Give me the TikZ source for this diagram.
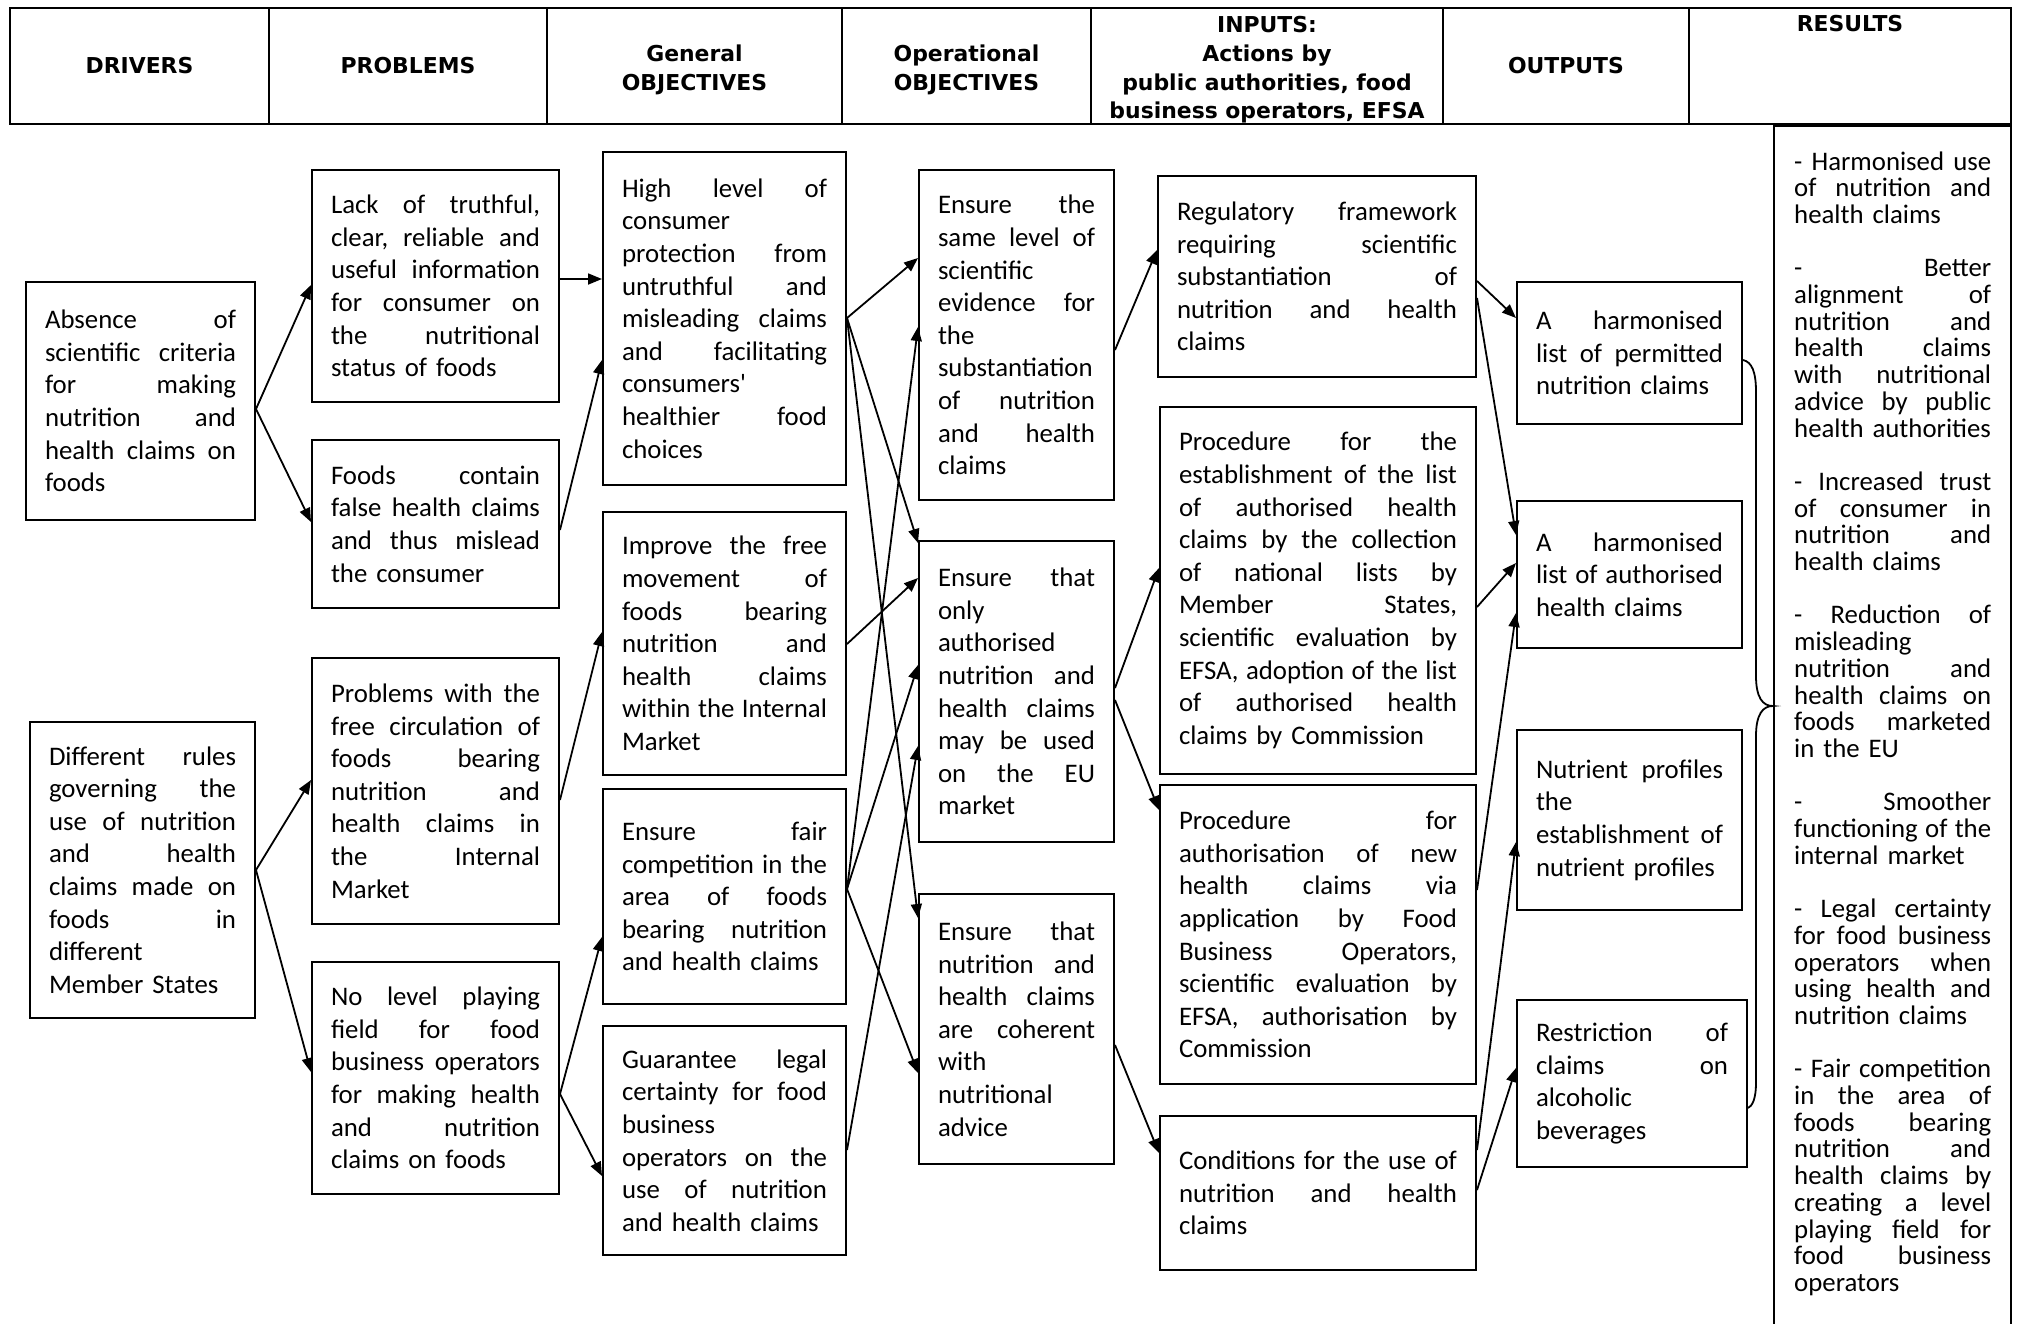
\documentclass[tikz,border=0pt]{standalone}
\usepackage{fontspec}
\setmainfont{Carlito}
\newfontfamily\bodyfam{Carlito}
\newfontfamily\hdrfamily{DejaVu Sans}
\usetikzlibrary{arrows.meta}
\newlength\mylw
\newcommand\jl[1]{\hbox to\mylw{\frenchspacing\spaceskip=\fontdimen2\font plus 1fil\relax #1}\break}
\newcommand\el[1]{\hbox{#1}}
\newcommand\hl[1]{\raisebox{-4pt}[\height][\depth]{\begin{tabular}{@{}c@{}}#1\end{tabular}}}
\newcommand\bodyfnt{\bodyfam\fontsize{26.8pt}{32.6pt}\selectfont}
\newcommand\resfnt{\bodyfam\fontsize{26.8pt}{26.7pt}\selectfont\lineskiplimit=-50pt}
\newcommand\hdrfnt{\hdrfamily\bfseries\fontsize{21.9pt}{28.7pt}\selectfont}
\hbadness=10000 \hfuzz=30pt
\tikzset{
  box/.style={draw, line width=2pt, rectangle, inner sep=0pt, font=\bodyfnt},
  hdr/.style={draw, line width=2.5pt, rectangle, inner sep=0pt, align=center, font=\hdrfnt, minimum height=116pt},
  arr/.style={line width=1.8pt, -{Triangle[length=14pt,width=11pt]}},
}
\newcommand\bx[6]{%
  \pgfmathsetmacro\myW{#4-#2}%
  \pgfmathsetmacro\myH{#5-#3}%
  \pgfmathsetmacro\myT{#4-#2-38}%
  \global\mylw=\myT pt\relax
  \node[box, minimum width=\myW pt, minimum height=\myH pt, text width=\myT pt] (#1) at ({(#2+#4)/2},{(#3+#5)/2}) {#6};}
\begin{document}
\begin{tikzpicture}[x=1pt,y=-1pt]
\fill[white] (0,0) rectangle (2019,1323);
\useasboundingbox (0,0) rectangle (2019,1323);

% header
\node[hdr, minimum width=259pt] (hdrv) at (139.5,66) {DRIVERS};
\node[hdr, minimum width=278pt] (hprb) at (408,66) {PROBLEMS};
\node[hdr, minimum width=295pt] (hgen) at (694.5,66) {\hl{General\\OBJECTIVES}};
\node[hdr, minimum width=249pt] (hop) at (966.5,66) {\hl{Operational\\OBJECTIVES}};
\node[hdr, minimum width=352pt] (hin) at (1267,66) {\hl{INPUTS:\\Actions by\\public authorities, food\\business operators, EFSA}};
\node[hdr, minimum width=246pt] (hout) at (1566,66) {OUTPUTS};
\node[hdr, minimum width=322pt] (hres) at (1850,66) {};
\node[font=\hdrfnt, anchor=base, inner sep=0pt] (hrest) at (1850,31) {RESULTS};

% drivers
\bx{d1}{26}{282}{255}{520}{\jl{Absence of}\jl{scientific criteria}\jl{for making}\jl{nutrition and}\jl{health claims on}\el{foods}}
\bx{d2}{30}{722}{255}{1018}{\jl{Different rules}\jl{governing the}\jl{use of nutrition}\jl{and health}\jl{claims made on}\jl{foods in}\jl{different}\el{Member States}}

% problems
\bx{p1}{312}{170}{559}{402}{\jl{Lack of truthful,}\jl{clear, reliable and}\jl{useful information}\jl{for consumer on}\jl{the nutritional}\el{status of foods}}
\bx{p2}{312}{440}{559}{608}{\jl{Foods contain}\jl{false health claims}\jl{and thus mislead}\el{the consumer}}
\bx{p3}{312}{658}{559}{924}{\jl{Problems with the}\jl{free circulation of}\jl{foods bearing}\jl{nutrition and}\jl{health claims in}\jl{the Internal}\el{Market}}
\bx{p4}{312}{962}{559}{1194}{\jl{No level playing}\jl{field for food}\jl{business operators}\jl{for making health}\jl{and nutrition}\el{claims on foods}}

% general objectives
\bx{g1}{603}{152}{846}{485}{\jl{High level of}\jl{consumer}\jl{protection from}\jl{untruthful and}\jl{misleading claims}\jl{and facilitating}\jl{consumers'}\jl{healthier food}\el{choices}}
\bx{g2}{603}{512}{846}{775}{\jl{Improve the free}\jl{movement of}\jl{foods bearing}\jl{nutrition and}\jl{health claims}\jl{within the Internal}\el{Market}}
\bx{g3}{603}{789}{846}{1004}{\jl{Ensure fair}\jl{competition in the}\jl{area of foods}\jl{bearing nutrition}\el{and health claims}}
\bx{g4}{603}{1026}{846}{1255}{\jl{Guarantee legal}\jl{certainty for food}\jl{business}\jl{operators on the}\jl{use of nutrition}\el{and health claims}}

% operational objectives
\bx{o1}{919}{170}{1114}{500}{\jl{Ensure the}\jl{same level of}\jl{scientific}\jl{evidence for}\jl{the}\jl{substantiation}\jl{of nutrition}\jl{and health}\el{claims}}
\bx{o2}{919}{541}{1114}{842}{\jl{Ensure that}\jl{only}\jl{authorised}\jl{nutrition and}\jl{health claims}\jl{may be used}\jl{on the EU}\el{market}}
\bx{o3}{919}{894}{1114}{1164}{\jl{Ensure that}\jl{nutrition and}\jl{health claims}\jl{are coherent}\jl{with}\jl{nutritional}\el{advice}}

% inputs
\bx{i1}{1158}{176}{1476}{377}{\jl{Regulatory framework}\jl{requiring scientific}\jl{substantiation of}\jl{nutrition and health}\el{claims}}
\bx{i2}{1160}{407}{1476}{774}{\jl{Procedure for the}\jl{establishment of the list}\jl{of authorised health}\jl{claims by the collection}\jl{of national lists by}\jl{Member States,}\jl{scientific evaluation by}\jl{EFSA, adoption of the list}\jl{of authorised health}\el{claims by Commission}}
\bx{i3}{1160}{785}{1476}{1084}{\jl{Procedure for}\jl{authorisation of new}\jl{health claims via}\jl{application by Food}\jl{Business Operators,}\jl{scientific evaluation by}\jl{EFSA, authorisation by}\el{Commission}}
\bx{i4}{1160}{1116}{1476}{1270}{\jl{Conditions for the use of}\jl{nutrition and health}\el{claims}}

% outputs
\bx{u1}{1517}{282}{1742}{424}{\jl{A harmonised}\jl{list of permitted}\el{nutrition claims}}
\bx{u2}{1517}{501}{1742}{648}{\jl{A harmonised}\jl{list of authorised}\el{health claims}}
\bx{u3}{1517}{730}{1742}{910}{\jl{Nutrient profiles}\jl{the}\jl{establishment of}\el{nutrient profiles}}
\bx{u4}{1517}{1000}{1747}{1167}{\jl{Restriction of}\jl{claims on}\jl{alcoholic}\el{beverages}}

% results
\node[draw, line width=2.5pt, inner sep=0pt, minimum width=237pt, minimum height=1250pt, anchor=north] (res) at (1892.5,124) {};
\global\mylw=197pt\relax
\node[anchor=base west, inner sep=0pt, text width=197pt, font=\resfnt] (rest) at (1794,170) {%
\jl{- Harmonised use}\jl{of nutrition and}\el{health claims}\par\vskip26.7pt
\jl{- Better}\jl{alignment of}\jl{nutrition and}\jl{health claims}\jl{with nutritional}\jl{advice by public}\el{health authorities}\par\vskip26.7pt
\jl{- Increased trust}\jl{of consumer in}\jl{nutrition and}\el{health claims}\par\vskip26.7pt
\jl{- Reduction of}\jl{misleading}\jl{nutrition and}\jl{health claims on}\jl{foods marketed}\el{in the EU}\par\vskip26.7pt
\jl{- Smoother}\jl{functioning of the}\el{internal market}\par\vskip26.7pt
\jl{- Legal certainty}\jl{for food business}\jl{operators when}\jl{using health and}\el{nutrition claims}\par\vskip26.7pt
\jl{- Fair competition}\jl{in the area of}\jl{foods bearing}\jl{nutrition and}\jl{health claims by}\jl{creating a level}\jl{playing field for}\jl{food business}\el{operators}};

% connectors drivers -> problems
\draw[arr] (d1.east |- 0,409) -- (p1.west |- 0,285);
\draw[arr] (d1.east |- 0,409) -- (p2.west |- 0,522);
\draw[arr] (d2.east |- 0,870) -- (p3.west |- 0,780);
\draw[arr] (d2.east |- 0,870) -- (p4.west |- 0,1072);

% problems -> general
\draw[arr] (p1.east |- 0,279) -- (g1.west |- 0,279);
\draw[arr] (p2.east |- 0,530) -- (g1.west |- 0,360);
\draw[arr] (p3.east |- 0,800) -- (g2.west |- 0,632);
\draw[arr] (p4.east |- 0,1094) -- (g3.west |- 0,937);
\draw[arr] (p4.east |- 0,1094) -- (g4.west |- 0,1176);

% general -> operational
\draw[arr] (g1.east |- 0,318) -- (o1.west |- 0,258);
\draw[arr] (g1.east |- 0,318) -- (o2.west |- 0,543);
\draw[arr] (g1.east |- 0,318) -- (o3.west |- 0,918);
\draw[arr] (g2.east |- 0,644) -- (o2.west |- 0,578);
\draw[arr] (g3.east |- 0,889) -- (o1.west |- 0,327);
\draw[arr] (g3.east |- 0,889) -- (o2.west |- 0,665);
\draw[arr] (g3.east |- 0,889) -- (o3.west |- 0,1073);
\draw[arr] (g4.east |- 0,1150) -- (o2.west |- 0,746);

% operational -> inputs
\draw[arr] (o1.east |- 0,350) -- (i1.west |- 0,250);
\draw[arr] (o2.east |- 0,688) -- (i2.west |- 0,568);
\draw[arr] (o2.east |- 0,700) -- (i3.west |- 0,810);
\draw[arr] (o3.east |- 0,1045) -- (i4.west |- 0,1153);

% inputs -> outputs
\draw[arr] (i1.east |- 0,281) -- (u1.west |- 0,318);
\draw[arr] (i1.east |- 0,298) -- (u2.west |- 0,535);
\draw[arr] (i2.east |- 0,607) -- (u2.west |- 0,563);
\draw[arr] (i3.east |- 0,890) -- (u2.west |- 0,613);
\draw[arr] (i4.east |- 0,1150) -- (u3.west |- 0,842);
\draw[arr] (i4.east |- 0,1190) -- (u4.west |- 0,1068);

% brace outputs -> results
\draw[line width=1.8pt] (u1.east |- 0,360) .. controls (1752,362) and (1756,372) .. (1756,392)
  -- (1756,676) .. controls (1756,698) and (1763,706) .. (res.west |- 0,706)
  .. controls (1763,706) and (1756,714) .. (1756,736)
  -- (1756,1082) .. controls (1756,1100) and (1752,1106) .. (u4.east |- 0,1108);
\end{tikzpicture}
\end{document}
